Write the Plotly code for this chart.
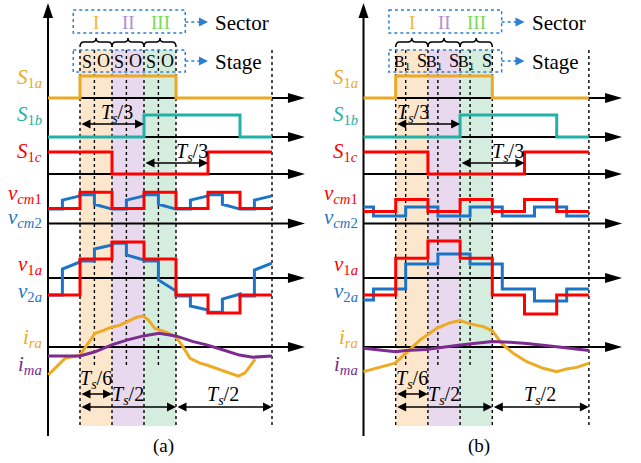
import plotly.graph_objects as go

# ---------------- data ----------------
# x = time in units of Ts/6, measured from the vertical axis; sectors I, II, III = [1,2], [2,3], [3,4]
S1A_EDGES = [0, 1, 4, 7]; S1A_LEV = [0, 1, 0]
S1B_EDGES = [0, 3, 6, 7]; S1B_LEV = [0, 1, 0]
S1C_EDGES = [0, 2, 5, 7]; S1C_LEV = [1, 0, 1]

SECTOR_EDGES = [0, 1, 2, 3, 4, 5, 6, 7]
VCM1_A = [1.25, 2.6, 1.25, 2.6, 1.25, 2.6, 1.25]
V1A_A = [-0.95, 1.05, 2.0, 1.05, -0.95, -1.95, -0.95]
VCM2_A_T = [0, 0.45, 0.45, 1, 1, 1.45, 1.45, 2, 2.45, 2.45, 3, 3, 3.45, 3.45, 4, 4.45, 4.45, 5, 5, 5.45, 5.45, 6, 6.45, 6.45, 7]
VCM2_A_V = [1.2, 1.2, 1.95, 2.3, 2.4, 2.4, 1.6, 1.2, 1.2, 1.95, 2.3, 2.4, 2.4, 1.6, 1.2, 1.2, 1.95, 2.3, 2.4, 2.4, 1.6, 1.2, 1.2, 1.95, 2.3]
V2A_A_T = [0, 0.45, 0.45, 1, 1, 1.45, 1.45, 2, 2, 2.45, 2.45, 3, 3, 3.45, 3.45, 4, 4, 4.45, 4.45, 5, 5, 5.45, 5.45, 6, 6, 6.45, 6.45, 7]
V2A_A_V = [-0.94, -0.94, 0.5, 0.89, 0.95, 0.95, 1.61, 1.83, 1.93, 1.93, 1.28, 1.0, 0.95, 0.95, -0.11, -0.72, -1.0, -1.0, -1.56, -1.78, -1.9, -1.9, -1.17, -0.89, -1.0, -1.0, 0.44, 0.83]
VCM1_B = [1.0, 2.0, 1.0, 2.0, 1.0, 2.0, 1.0]
V1A_B = [-0.95, 1.1, 2.05, 1.1, -0.95, -2.0, -0.95]
STAGE_EDGES_B = [0, 0.31, 1.31, 2.31, 3.31, 4.31, 5.31, 6.31, 7]
VCM2_B = [1.375, 0.625, 1.375, 0.625, 1.375, 0.625, 1.375, 0.625]
V2A_B = [-1.22, -0.61, 0.78, 1.33, 0.78, -0.61, -1.28, -0.61]
IRA_A_T = [0.01, 0.22, 0.53, 1.0, 1.21, 1.47, 1.63, 1.99, 2.25, 2.46, 2.77, 2.98, 3.14, 3.34, 3.71, 3.99, 4.18, 4.44, 4.75, 4.96, 5.58, 5.95, 6.16, 6.47]
IRA_A_V = [-0.93, -0.71, -0.38, -0.27, 0.07, 0.46, 0.51, 0.66, 0.73, 0.84, 0.99, 1.03, 0.9, 0.62, 0.49, 0.34, 0.07, -0.38, -0.54, -0.6, -0.82, -0.97, -0.86, -0.41]
IMA_A_T = [0, 1.0, 1.47, 1.99, 2.46, 2.98, 3.47, 3.99, 4.54, 4.96, 5.48, 5.98, 6.4, 7.0]
IMA_A_V = [-0.3, -0.3, -0.16, 0.07, 0.23, 0.37, 0.46, 0.37, 0.18, 0.07, -0.1, -0.27, -0.34, -0.3]
IRA_B_T = [0, 0.41, 0.98, 1.31, 1.75, 2.27, 2.69, 3.0, 3.31, 3.72, 4.0, 4.29, 4.65, 5.07, 5.58, 6.0, 6.31, 6.62, 7.01]
IRA_B_V = [-0.82, -0.71, -0.54, -0.21, 0.23, 0.62, 0.81, 0.88, 0.77, 0.68, 0.54, 0.12, -0.21, -0.49, -0.71, -0.82, -0.73, -0.68, -0.54]
IMA_B_T = [0, 1.0, 1.31, 1.94, 3.0, 4.0, 4.55, 5.07, 6.0, 7.01]
IMA_B_V = [-0.04, -0.16, -0.12, -0.08, 0.07, 0.18, 0.16, 0.12, 0.01, -0.12]

SECTOR_NAMES = ["I", "II", "III"]
STAGES_A = [("S", 0.22), ("O", 0.72)]
STAGES_B = [("B<sub>1</sub>", 0.19), ("S", 0.82)]

# ---------------- layout constants ----------------
ROW = dict(S1a=98, S1b=137, S1c=174, vcm=223.5, v=278, i=347)
G_SW, G_VCM, G_V, G_I = 22, 12, 18, 30
FONT = "Liberation Serif"
C_OR, C_TEAL, C_RED, C_BLUE, C_PUR, C_IRA = "#EBA925", "#22B1A6", "#FF0000", "#1C74C6", "#7B2C8E", "#EDAA22"
C_BOX = "#2A7FD0"
SHADE = ["#FCE7CD", "#E8D9EF", "#D5EDDE"]
ROMAN_C = ["#F6B634", "#B28ED6", "#7CD956"]


def step_xy(edges, levels):
    xs, ys = [], []
    for k, lv in enumerate(levels):
        xs += [edges[k], edges[k + 1]]
        ys += [lv, lv]
    return xs, ys


fig = go.Figure()


def line(xa, xs, vs, base, gain, color, w=3):
    fig.add_trace(go.Scatter(x=xs, y=[base - gain * v for v in vs], xaxis=xa, yaxis="y",
                             mode="lines", line=dict(color=color, width=w), hoverinfo="skip",
                             showlegend=False))


def txt(xa, x, y, s, size=19, color="black", xanchor="center"):
    fig.add_annotation(x=x, y=y, xref=xa, yref="y", text=s, showarrow=False,
                       font=dict(family=FONT, size=size, color=color), xanchor=xanchor, yanchor="middle")


def darrow(xa, x0, x1, y):
    fig.add_annotation(x=x1, y=y, ax=x0, ay=y, xref=xa, yref="y", axref=xa, ayref="y", text="",
                       showarrow=True, arrowside="end+start", arrowhead=2, arrowsize=1.2,
                       arrowwidth=1.5, arrowcolor="black", standoff=0, startstandoff=0)


def panel(xa, unit, stage_b, stages, vcm1, vcm2, v1a, v2a, ira, ima, tag, ts3_x, stage_size):
    xref = xa
    shapes = []
    for k in range(3):
        shapes.append(dict(type="rect", xref=xref, yref="y", x0=1 + k, x1=2 + k, y0=50, y1=426,
                           fillcolor=SHADE[k], line=dict(width=0), layer="below"))
    for xv in [1, 2, 3, 4]:
        shapes.append(dict(type="line", xref=xref, yref="y", x0=xv, x1=xv, y0=50, y1=426,
                           line=dict(color="black", width=1.4, dash="dot"), layer="below"))
    shapes.append(dict(type="line", xref=xref, yref="y", x0=7, x1=7, y0=50, y1=428,
                       line=dict(color="black", width=1.4, dash="dot"), layer="below"))
    for k in range(3):
        xv = 1 + k + stage_b
        shapes.append(dict(type="line", xref=xref, yref="y", x0=xv, x1=xv, y0=50, y1=365,
                           line=dict(color="black", width=1.4, dash="dot"), layer="below"))
    hw = 5 / unit
    shapes.append(dict(type="line", xref=xref, yref="y", x0=0, x1=0, y0=436, y1=16,
                       line=dict(color="black", width=2), layer="below"))
    shapes.append(dict(type="path", xref=xref, yref="y",
                       path=f"M {-hw},18 L 0,3 L {hw},18 Z", fillcolor="black", line=dict(width=0)))
    tip = 8.03
    L = 17 / unit
    for key in ["S1a", "S1b", "S1c", "vcm", "v", "i"]:
        y = ROW[key]
        shapes.append(dict(type="line", xref=xref, yref="y", x0=0, x1=tip - L + 0.05, y0=y, y1=y,
                           line=dict(color="black", width=2), layer="below"))
        shapes.append(dict(type="path", xref=xref, yref="y",
                           path=f"M {tip - L},{y - 5} L {tip},{y} L {tip - L},{y + 5} Z",
                           fillcolor="black", line=dict(width=0)))
    bx0, bx1 = 0.79, 4.29
    for y0, y1 in [(10, 33), (50, 72)]:
        shapes.append(dict(type="rect", xref=xref, yref="y", x0=bx0, x1=bx1, y0=y0, y1=y1,
                           line=dict(color=C_BOX, width=1.5, dash="dot"), fillcolor="rgba(0,0,0,0)"))
    for yc in [22, 61]:
        shapes.append(dict(type="line", xref=xref, yref="y", x0=bx1, x1=4.8, y0=yc, y1=yc,
                           line=dict(color=C_BOX, width=1.5, dash="dot")))
        a = 9 / unit
        shapes.append(dict(type="path", xref=xref, yref="y",
                           path=f"M {5.0 - a},{yc - 4.5} L 5.0,{yc} L {5.0 - a},{yc + 4.5} Z",
                           fillcolor=C_BOX, line=dict(width=0)))
    d = 4 / unit
    for k in range(3):
        a0, a1 = 1 + k, 2 + k
        m = (a0 + a1) / 2
        p = (f"M {a0},47 Q {a0},42 {a0 + d},42 L {m - d},42 Q {m},42 {m},38 "
             f"Q {m},42 {m + d},42 L {a1 - d},42 Q {a1},42 {a1},47")
        shapes.append(dict(type="path", xref=xref, yref="y", path=p, line=dict(color="black", width=1.5)))
    for s in shapes:
        fig.add_shape(**s)

    xs, ys = step_xy(S1A_EDGES, S1A_LEV); line(xa, xs, ys, ROW["S1a"], G_SW, C_OR)
    xs, ys = step_xy(S1B_EDGES, S1B_LEV); line(xa, xs, ys, ROW["S1b"], G_SW, C_TEAL)
    xs, ys = step_xy(S1C_EDGES, S1C_LEV); line(xa, xs, ys, ROW["S1c"], G_SW, C_RED)
    line(xa, vcm2[0], vcm2[1], ROW["vcm"], G_VCM, C_BLUE)
    xs, ys = step_xy(SECTOR_EDGES, vcm1); line(xa, xs, ys, ROW["vcm"], G_VCM, C_RED)
    line(xa, v2a[0], v2a[1], ROW["v"], G_V, C_BLUE)
    xs, ys = step_xy(SECTOR_EDGES, v1a); line(xa, xs, ys, ROW["v"], G_V, C_RED)
    line(xa, ira[0], ira[1], ROW["i"], G_I, C_IRA)
    line(xa, ima[0], ima[1], ROW["i"], G_I, C_PUR)

    lx = -4 / unit
    labs = [("<i>S</i><sub>1<i>a</i></sub>", 78, C_OR), ("<i>S</i><sub>1<i>b</i></sub>", 115, C_TEAL),
            ("<i>S</i><sub>1<i>c</i></sub>", 152, C_RED), ("<i>v</i><sub><i>cm</i>1</sub>", 194, C_RED),
            ("<i>v</i><sub><i>cm</i>2</sub>", 218, C_BLUE), ("<i>v</i><sub>1<i>a</i></sub>", 265, C_RED),
            ("<i>v</i><sub>2<i>a</i></sub>", 292, C_BLUE), ("<i>i</i><sub><i>ra</i></sub>", 338, C_IRA),
            ("<i>i</i><sub><i>ma</i></sub>", 365, C_PUR)]
    for s, y, c in labs:
        txt(xa, lx, y, s, size=21, color=c, xanchor="right")
    for k in range(3):
        txt(xa, 1.5 + k, 22, SECTOR_NAMES[k], size=19, color=ROMAN_C[k])
    txt(xa, 5.16, 23, "Sector", size=21, xanchor="left")
    txt(xa, 5.16, 62, "Stage", size=21, xanchor="left")
    for k in range(3):
        txt(xa, 1 + k + stages[0][1], 62, stages[0][0], size=stage_size)
        txt(xa, 1 + k + stages[1][1], 61, stages[1][0], size=18)
    ts = "<i>T</i><sub><i>s</i></sub>"
    darrow(xa, 1, 3, 124); txt(xa, ts3_x, 113, ts + "/3", size=20)
    darrow(xa, 3, 5, 163); txt(xa, 4.5, 152, ts + "/3", size=20)
    darrow(xa, 1, 2, 394); txt(xa, 1.5, 379, ts + "/6", size=20)
    darrow(xa, 1, 4, 407); txt(xa, 2.5, 395, ts + "/2", size=20)
    darrow(xa, 4, 7, 407); txt(xa, 5.47, 395, ts + "/2", size=20)
    txt(xa, 3.6, 446, tag, size=19)


panel("x", 32.0, 0.45, STAGES_A, VCM1_A, (VCM2_A_T, VCM2_A_V), V1A_A,
      (V2A_A_T, V2A_A_V), (IRA_A_T, IRA_A_V), (IMA_A_T, IMA_A_V), "(a)", 2.16, 18)
xs_b, ys_b = step_xy(STAGE_EDGES_B, VCM2_B)
xv_b, yv_b = step_xy(STAGE_EDGES_B, V2A_B)
panel("x2", 32.2, 0.31, STAGES_B, VCM1_B, (xs_b, ys_b), V1A_B,
      (xv_b, yv_b), (IRA_B_T, IRA_B_V), (IMA_B_T, IMA_B_V), "(b)", 1.55, 16)

W, H = 641, 463
fig.update_layout(
    width=W, height=H, margin=dict(l=0, r=0, t=0, b=0),
    paper_bgcolor="white", plot_bgcolor="rgba(0,0,0,0)", showlegend=False,
    font=dict(family=FONT),
    xaxis=dict(domain=[0, 0.5], range=[-48 / 32.0, (320.5 - 48) / 32.0], visible=False, anchor="y"),
    xaxis2=dict(domain=[0.5, 1], range=[(320.5 - 363.5) / 32.2, (641 - 363.5) / 32.2], visible=False, anchor="y"),
    yaxis=dict(domain=[0, 1], range=[H, 0], visible=False),
)
fig.write_html("out.html")
